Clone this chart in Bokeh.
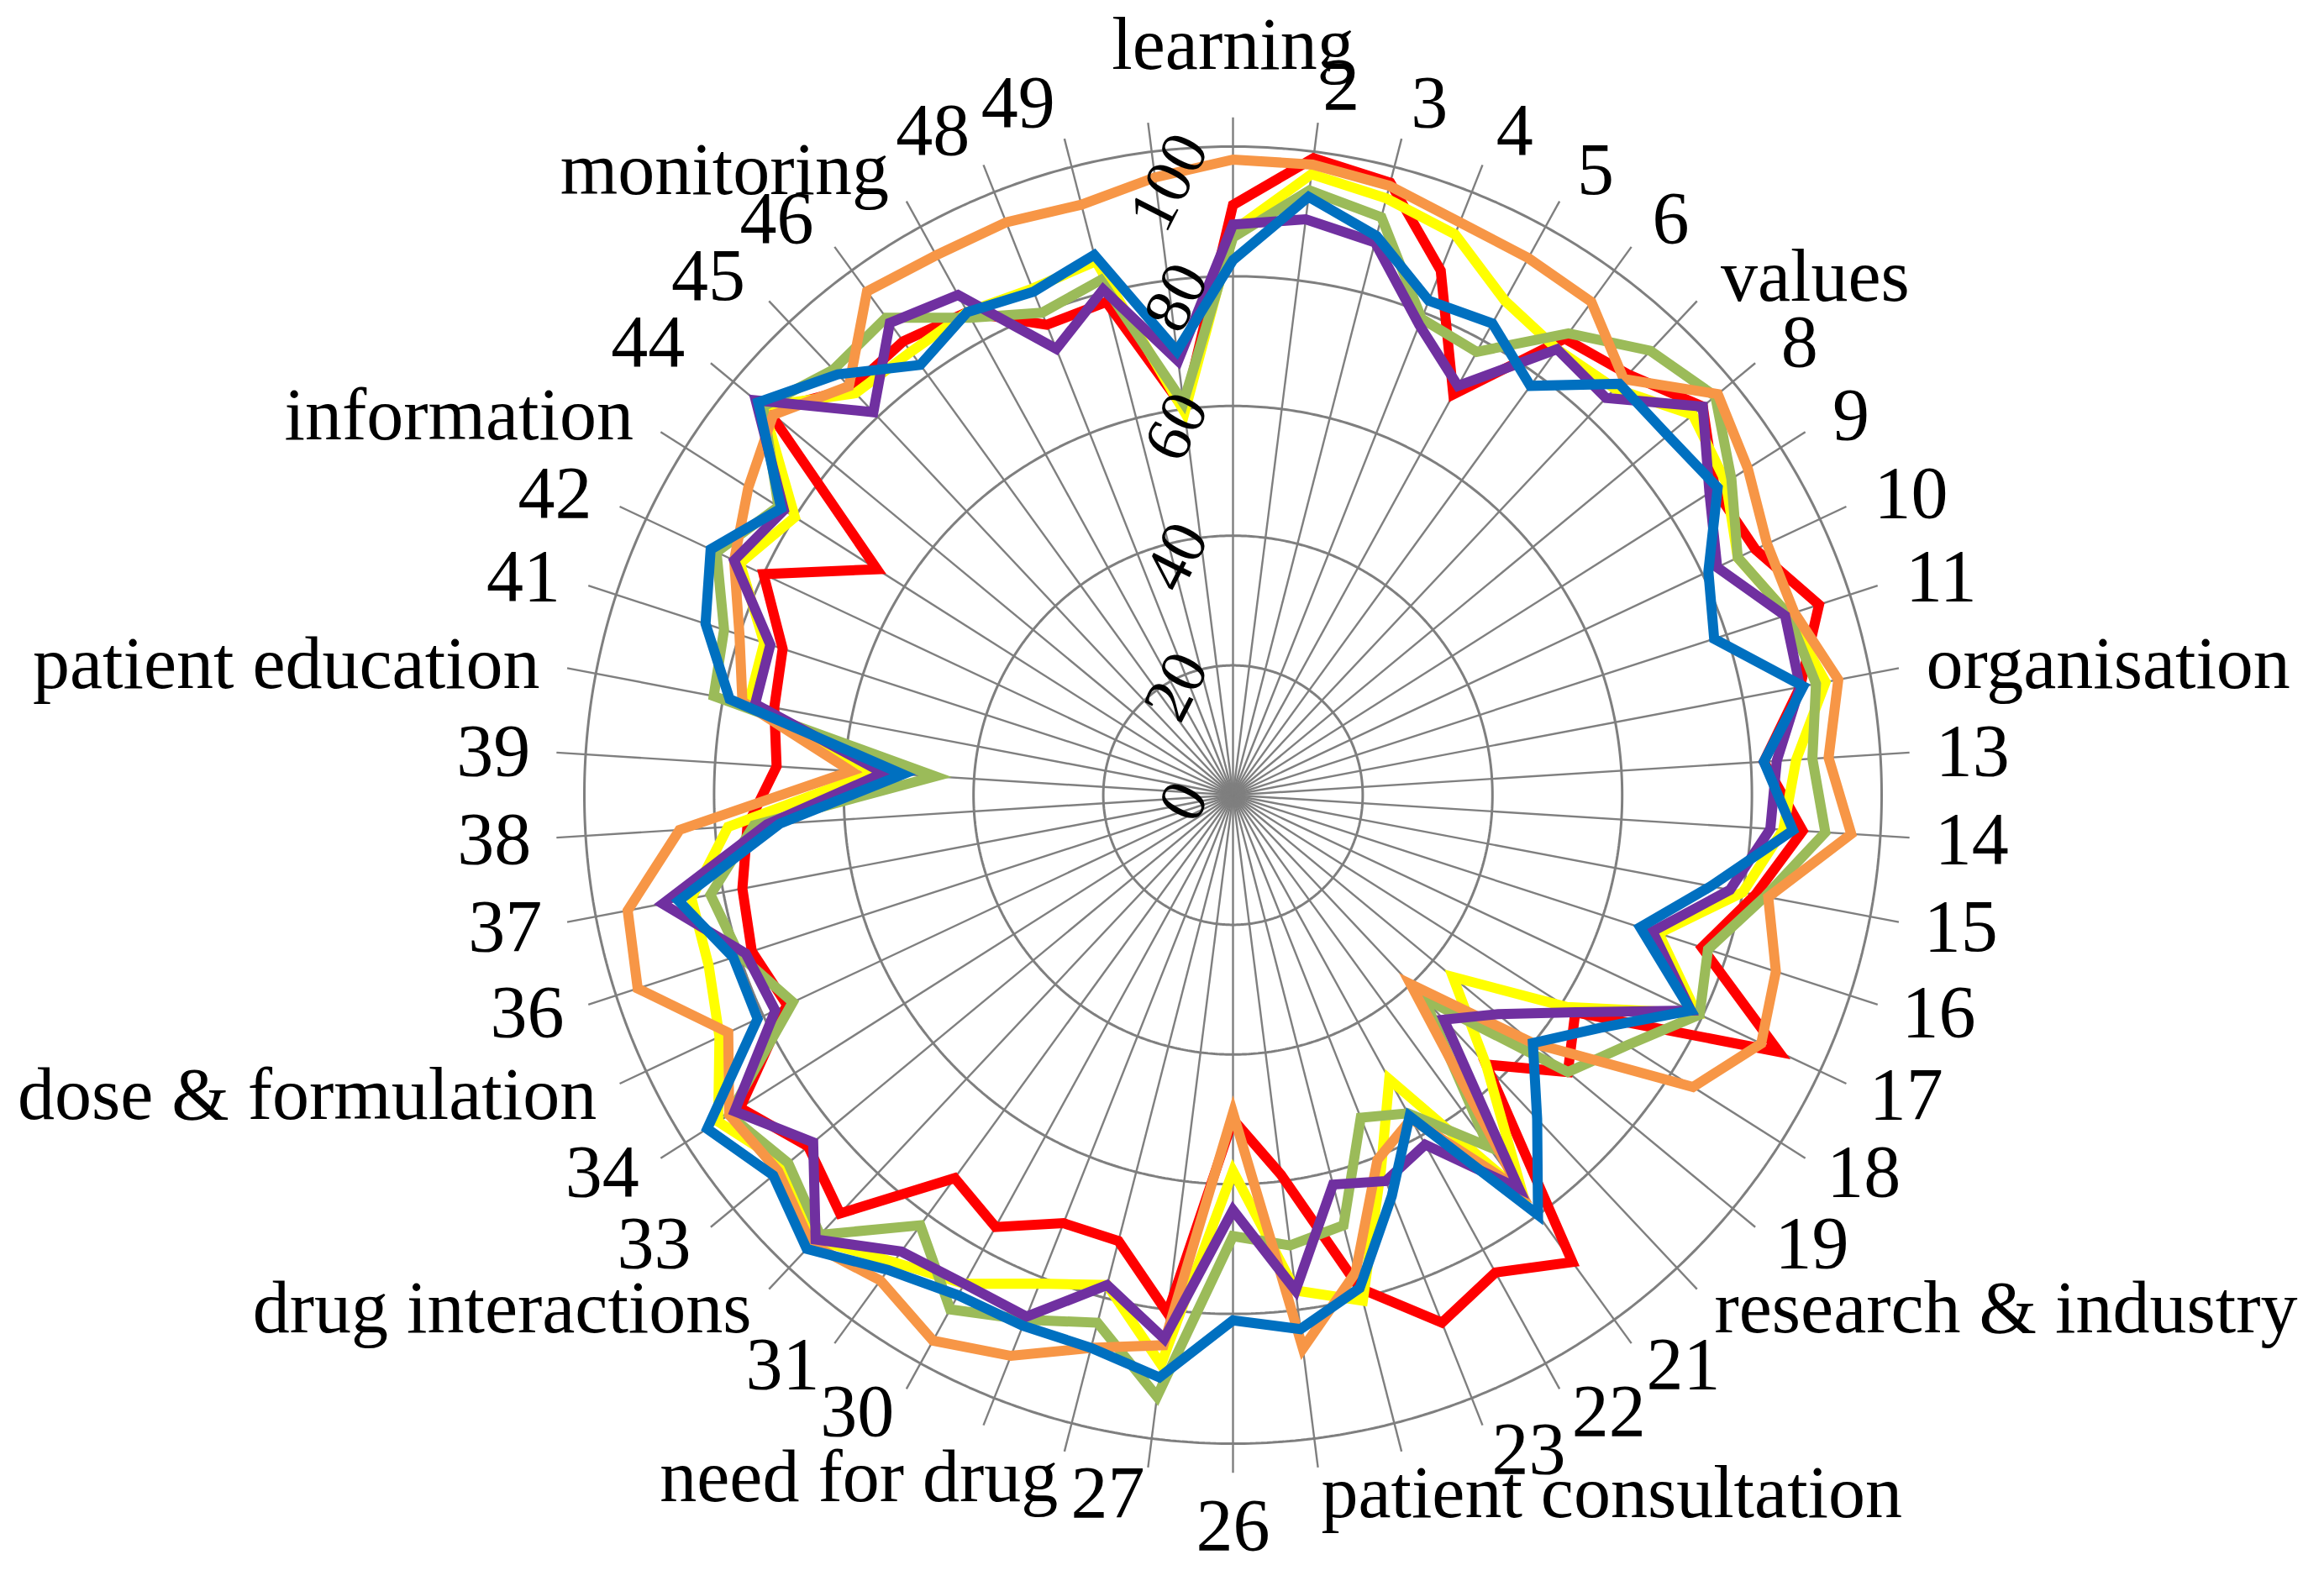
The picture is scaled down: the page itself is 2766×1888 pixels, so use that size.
import numpy as np
from bokeh.plotting import figure
from bokeh.models import ColumnDataSource
from bokeh.embed import file_html
from bokeh.resources import INLINE
from bokeh.core.properties import value

# ---------------- data ----------------
categories = ["learning", "2", "3", "4", "5", "6", "values", "8", "9", "10",
              "11", "organisation", "13", "14", "15", "16", "17", "18", "19",
              "research & industry", "21", "22", "23", "", "patient consultation",
              "26", "27", "need for drug", "", "30", "31", "drug interactions",
              "33", "34", "dose & formulation", "36", "37", "38", "39",
              "patient education", "41", "42", "information", "44", "45", "46",
              "monitoring", "48", "49", ""]

radial_ticks = [0, 20, 40, 60, 80, 100]
radial_labels = ["0", "20", "40", "60", "80", "100"]

red = [91, 99, 97.5, 87, 70.5, 87, 89, 94, 88, 89,
       95, 89, 82, 88, 82, 76, 93, 62.5, 67, 57,
       89, 84, 87.5, 78.5, 59, 50, 80.5, 71, 71, 76,
       73, 88.5, 85, 90, 76, 78, 77, 75, 70.5, 72,
       73, 80, 65, 93, 86, 86.5, 85, 78, 78.5, 60]

yellow = [87, 96.5, 95, 93, 87, 85, 86, 92, 90, 86,
          90, 93, 87, 85, 80, 69, 79, 61, 44, 57,
          76, 50, 62, 80.5, 77, 58, 88.5, 78, 81, 86,
          89, 94, 89.5, 94, 87.5, 85, 85, 78, 55.5, 76,
          76, 84, 80, 94, 85, 84.5, 85, 84, 85, 59.5]

green = [86, 94, 92, 79, 78, 88, 94, 96.5, 91, 86,
         90, 91.5, 89.5, 91.5, 83.5, 77, 79.5, 72, 67, 43,
         67, 56, 53.5, 68.5, 70, 68, 93.5, 84, 87, 90.5,
         82, 93, 89, 92, 75, 80, 82, 74, 46, 81.5,
         82.5, 88, 83, 94, 90, 91, 84, 80, 82, 61]

orange = [98, 98, 97, 95, 94.5, 94, 88, 97, 94, 91,
          91, 95, 92, 95.5, 84, 88, 90, 84, 60, 40,
          75, 57, 60.5, 76, 86, 49, 85.5, 88, 93, 96,
          92.5, 95, 91, 92, 86, 96.5, 95, 85.5, 59, 77,
          80, 85, 88.5, 92, 86.5, 96, 95, 95, 94, 96]

purple = [88, 89.5, 88, 78, 72, 85, 84, 94, 87, 82.5,
          89.5, 89, 84, 83, 78, 68, 78, 62.5, 53, 47.5,
          75, 61.5, 64, 62, 77, 64, 84.5, 78, 86.5, 86,
          87, 94, 84, 91, 78, 79, 89.5, 72, 54, 75,
          75, 85, 82, 95.5, 81, 90, 88, 74, 80.5, 67.5]

blue = [82.5, 93, 89, 82, 83, 78, 87, 87, 88.5, 81,
        78, 89.5, 82, 86.5, 75, 66, 78, 67, 60, 68.5,
        80, 56.5, 66.5, 78.5, 83, 81, 90.5, 88, 88, 88,
        90.5, 96, 92, 96, 81, 81, 87, 70, 51, 79,
        85.5, 89, 82.5, 95, 89, 82, 85, 83.5, 86, 69]

series = [("red", red, "#FF0000"),
          ("yellow", yellow, "#FFFF00"),
          ("green", green, "#9BBB59"),
          ("orange", orange, "#F79646"),
          ("purple", purple, "#7030A0"),
          ("blue", blue, "#0070C0")]

# ---------------- geometry ----------------
N = len(categories)
theta = np.deg2rad(np.arange(N) * 360.0 / N)   # clockwise from top
K = 7.72                      # px per data unit
W, H = 2750, 1872
CX, CY = 1467, 946            # chart centre in figure pixels
FONT = "Liberation Serif"

p = figure(width=W, height=H,
           x_range=(-CX / K, (W - CX) / K),
           y_range=(-(H - CY) / K, CY / K),
           output_backend="svg", toolbar_location=None,
           x_axis_type=None, y_axis_type=None, min_border=0)
p.xgrid.visible = False
p.ygrid.visible = False
p.outline_line_color = None
p.background_fill_color = "white"
p.border_fill_color = "white"

grid_color = "#7F7F7F"
# rings
t = np.linspace(0, 2 * np.pi, 721)
p.multi_line(xs=[list(r * np.sin(t)) for r in radial_ticks[1:]],
             ys=[list(r * np.cos(t)) for r in radial_ticks[1:]],
             line_color=grid_color, line_width=3.0)
# spokes
SP = 104.5
p.multi_line(xs=[[0, SP * np.sin(a)] for a in theta],
             ys=[[0, SP * np.cos(a)] for a in theta],
             line_color=grid_color, line_width=2.4)

# series
for name, vals, col in series:
    v = np.array(vals, dtype=float)
    p.patch(x=list(v * np.sin(theta)), y=list(v * np.cos(theta)),
            fill_color=None, line_color=col, line_width=12,
            line_join="miter")

# radial tick labels
p.text(x=[-6.5] * len(radial_ticks), y=[v + 1.3 for v in radial_ticks],
       text=radial_labels, angle=np.deg2rad(63),
       text_align="right", text_baseline="middle",
       text_font=value(FONT), text_font_size="78px", text_color="black")

# category labels
lx, ly, la, lb = [], [], [], []
for i, a in enumerate(theta):
    deg = i * 360.0 / N
    c = np.cos(a)
    if i == 0:
        R = 846 / K
        al, bl = "center", "bottom"
    elif abs(deg - 180) < 1e-6:
        R = 840 / K
        al, bl = "center", "top"
    else:
        R = (837 + 15 * max(c, 0)) / K
        al = "left" if deg < 180 else "right"
        bl = "middle"
    lx.append(R * np.sin(a))
    ly.append(R * np.cos(a))
    la.append(al)
    lb.append(bl)

src = ColumnDataSource(dict(x=lx, y=ly, text=categories, align=la, base=lb))
p.text(x="x", y="y", text="text", source=src,
       text_align="align", text_baseline="base",
       text_font=value(FONT), text_font_size="88px", text_color="black")

open("out.html", "w").write(file_html(p, INLINE))
